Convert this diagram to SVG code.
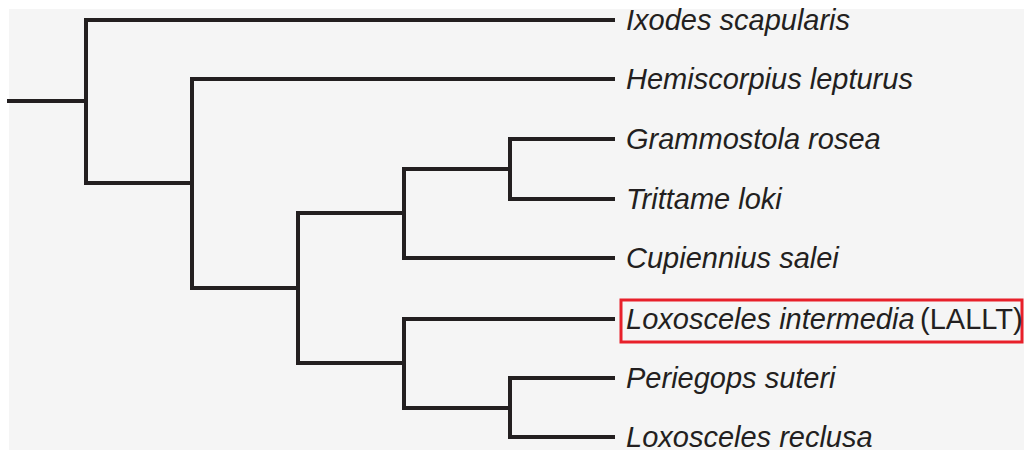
<svg xmlns="http://www.w3.org/2000/svg" width="1024" height="450" viewBox="0 0 1024 450">
<style>
.br{fill:none;stroke:#231f20;stroke-width:4;stroke-linecap:square;stroke-linejoin:miter}
.lbl{font-family:"Liberation Sans",Arial,sans-serif;font-size:29px;font-style:italic;fill:#231f20}
.up{font-style:normal}
.hl{fill:none;stroke:#e8202a;stroke-width:3}
</style>
<rect x="0" y="0" width="1024" height="450" fill="#ffffff"/>
<rect x="9" y="9" width="1015" height="441" fill="#f5f5f5"/>
<g id="connectors">
<path class="br" d="M9,101 H86"/>
<path class="br" d="M86,20 V183"/>
<path class="br" d="M86,20 H613"/>
<path class="br" d="M86,183 H192"/>
<path class="br" d="M192,79 V288"/>
<path class="br" d="M192,79 H613"/>
<path class="br" d="M192,288 H298"/>
<path class="br" d="M298,213 V363"/>
<path class="br" d="M298,213 H404"/>
<path class="br" d="M404,169 V258"/>
<path class="br" d="M404,169 H510"/>
<path class="br" d="M510,139 V199"/>
<path class="br" d="M510,139 H613"/>
<path class="br" d="M510,199 H613"/>
<path class="br" d="M404,258 H613"/>
<path class="br" d="M298,363 H404"/>
<path class="br" d="M404,319 V408"/>
<path class="br" d="M404,319 H613"/>
<path class="br" d="M404,408 H510"/>
<path class="br" d="M510,378 V437"/>
<path class="br" d="M510,378 H613"/>
<path class="br" d="M510,437 H613"/>
</g>
<g id="leaf-ixodes"><text class="lbl" x="626" y="30">Ixodes scapularis</text></g>
<g id="leaf-hemiscorpius"><text class="lbl" x="626" y="89">Hemiscorpius lepturus</text></g>
<g id="leaf-grammostola"><text class="lbl" x="626" y="149">Grammostola rosea</text></g>
<g id="leaf-trittame"><text class="lbl" x="626" y="209">Trittame loki</text></g>
<g id="leaf-cupiennius"><text class="lbl" x="626" y="268">Cupiennius salei</text></g>
<g id="leaf-loxosceles-intermedia">
<rect class="hl" x="621" y="300" width="401" height="42"/>
<text class="lbl" x="626" y="329">Loxosceles intermedia</text>
<text class="lbl up" x="920" y="329">(LALLT)</text>
</g>
<g id="leaf-periegops"><text class="lbl" x="626" y="388">Periegops suteri</text></g>
<g id="leaf-loxosceles-reclusa"><text class="lbl" x="626" y="447">Loxosceles reclusa</text></g>
</svg>
